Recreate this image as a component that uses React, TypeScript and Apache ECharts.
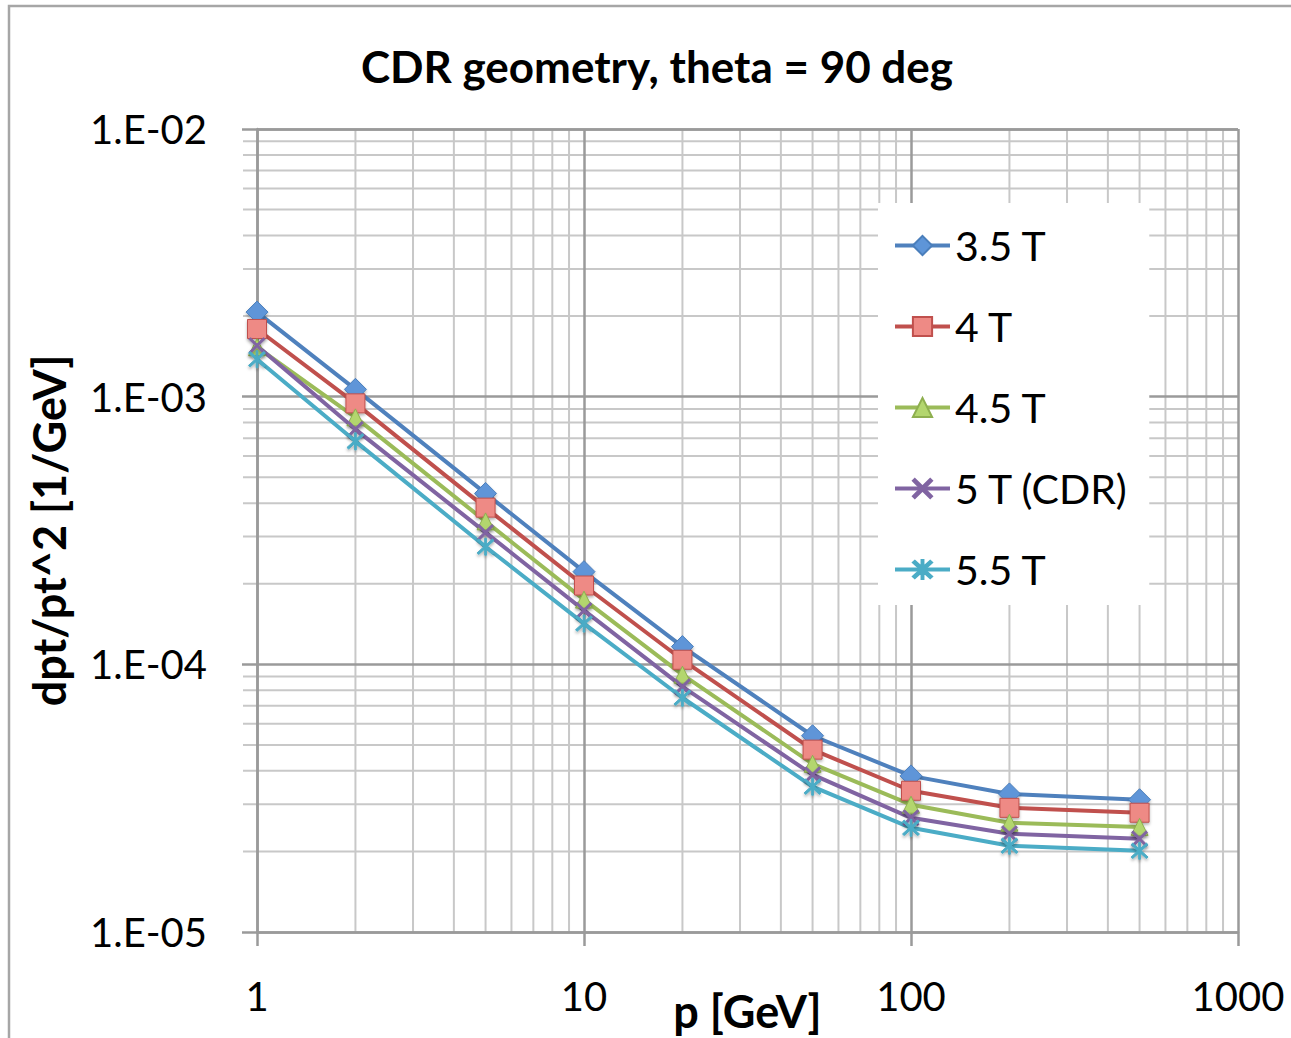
import React, { useEffect, useRef } from "react";
import * as echarts from "echarts";

const momenta = [1, 2, 5, 10, 20, 50, 100, 200, 500];
const seriesNames = ["3.5 T", "4 T", "4.5 T", "5 T (CDR)", "5.5 T"];
const b35 = [2.07e-3, 1.065e-3, 4.35e-4, 2.22e-4, 1.165e-4, 5.41e-5, 3.83e-5, 3.28e-5, 3.12e-5];
const b40 = [1.79e-3, 9.44e-4, 3.85e-4, 1.97e-4, 1.04e-4, 4.8e-5, 3.37e-5, 2.91e-5, 2.79e-5];
const b45 = [1.53e-3, 8.37e-4, 3.42e-4, 1.745e-4, 9.15e-5, 4.25e-5, 2.99e-5, 2.56e-5, 2.47e-5];
const b50 = [1.55e-3, 7.55e-4, 3.11e-4, 1.59e-4, 8.25e-5, 3.87e-5, 2.67e-5, 2.33e-5, 2.23e-5];
const b55 = [1.38e-3, 6.81e-4, 2.75e-4, 1.42e-4, 7.5e-5, 3.49e-5, 2.45e-5, 2.1e-5, 2.01e-5];
const xMinorTicks = [2, 3, 4, 5, 6, 7, 8, 9, 20, 30, 40, 50, 60, 70, 80, 90, 200, 300, 400, 500, 600, 700, 800, 900];
const yMinorTicks = [
  2e-5, 3e-5, 4e-5, 5e-5, 6e-5, 7e-5, 8e-5, 9e-5,
  2e-4, 3e-4, 4e-4, 5e-4, 6e-4, 7e-4, 8e-4, 9e-4,
  2e-3, 3e-3, 4e-3, 5e-3, 6e-3, 7e-3, 8e-3, 9e-3,
];

const FONT = "Lato, 'Open Sans', sans-serif";

const X_PATH = "path://M2,0 L10,8 L18,0 L20,2 L12,10 L20,18 L18,20 L10,12 L2,20 L0,18 L8,10 L0,2 Z";
const STAR_PATH =
  "path://M2,0 L10,8 L18,0 L20,2 L12,10 L20,18 L18,20 L10,12 L2,20 L0,18 L8,10 L0,2 Z M9,-1 L11,-1 L11,21 L9,21 Z";

const styles = [
  { line: "#4F81BD", fill: "#5E95D8", border: "#4A7EBB", symbol: "diamond", size: 22 },
  { line: "#C0504D", fill: "#EE8A85", border: "#C0504D", symbol: "rect", size: 19 },
  { line: "#9BBB59", fill: "#B3D66E", border: "#8EAF4F", symbol: "triangle", size: 17 },
  { line: "#8064A2", fill: "#8064A2", border: "#8064A2", symbol: X_PATH, size: 16 },
  { line: "#4BACC6", fill: "#4BACC6", border: "#4BACC6", symbol: STAR_PATH, size: 17 },
];

function expLabel(v: number): string {
  const e = Math.round(Math.log10(v));
  const a = Math.abs(e);
  return "1.E" + (e < 0 ? "-" : "+") + (a < 10 ? "0" + a : String(a));
}

export default function App() {
  const ref = useRef<HTMLDivElement>(null);
  useEffect(() => {
    if (!ref.current) return;
    const chart = echarts.init(ref.current, undefined, { renderer: "svg" });
    const allValues = [b35, b40, b45, b50, b55];
    const lineSeries = allValues.map((vals, i) => ({
      name: seriesNames[i],
      type: "line",
      z: 3,
      clip: false,
      data: momenta.map((m, j) => [m, vals[j]]),
      symbol: styles[i].symbol,
      symbolSize: styles[i].size,
      showAllSymbol: true,
      lineStyle: { color: styles[i].line, width: 4 },
      itemStyle: {
        color: styles[i].fill,
        borderColor: styles[i].border,
        borderWidth: 1,
        shadowBlur: 3,
        shadowOffsetY: 2,
        shadowColor: "rgba(0,0,0,0.3)",
      },
      emphasis: { disabled: true },
    }));

    const option: any = {
      animation: false,
      backgroundColor: "#ffffff",
      graphic: [
        {
          type: "rect",
          shape: { x: 9, y: 6, width: 1400, height: 1100 },
          style: { fill: "none", stroke: "#a6a6a6", lineWidth: 2.5 },
          silent: true,
        },
        {
          type: "text",
          x: 657,
          y: 66,
          style: {
            text: "CDR geometry, theta = 90 deg",
            font: `bold 44px ${FONT}`,
            fill: "#000",
            textAlign: "center",
            textVerticalAlign: "middle",
          },
        },
      ],
      grid: {
        left: 257,
        right: 53,
        top: 129,
        bottom: 106,
        containLabel: false,
        outerBoundsMode: "none",
      },
      legend: {
        data: seriesNames,
        orient: "vertical",
        left: 878,
        top: 203,
        padding: [22, 20, 15, 15],
        itemGap: 40,
        itemWidth: 55,
        itemHeight: 24,
        backgroundColor: "#ffffff",
        lineStyle: { width: 4 },
        textStyle: { fontFamily: FONT, fontSize: 41, color: "#000", lineHeight: 40 },
        selectedMode: false,
      },
      xAxis: {
        type: "log",
        logBase: 10,
        min: 1,
        max: 1000,
        z: 1,
        name: "p [GeV]",
        nameLocation: "middle",
        nameGap: 56,
        nameMoveOverlap: false,
        nameTextStyle: { fontFamily: FONT, fontSize: 45, fontWeight: "bold", color: "#000" },
        axisLine: { show: true, lineStyle: { color: "#9a9a9a", width: 2.5 } },
        axisTick: { show: true, inside: false, length: 14, lineStyle: { color: "#9a9a9a", width: 2.5 } },
        axisLabel: {
          fontFamily: FONT,
          fontSize: 40,
          color: "#000",
          margin: 44,
          formatter: (v: number) => String(Math.round(v)),
        },
        splitLine: { show: true, lineStyle: { color: "#9a9a9a", width: 2.5 } },
        minorTick: { show: false },
        minorSplitLine: { show: false },
      },
      yAxis: {
        type: "log",
        logBase: 10,
        min: 1e-5,
        max: 1e-2,
        z: 1,
        name: "dpt/pt^2 [1/GeV]",
        nameLocation: "middle",
        nameGap: 186,
        nameMoveOverlap: false,
        nameRotate: 90,
        nameTextStyle: { fontFamily: FONT, fontSize: 45, fontWeight: "bold", color: "#000" },
        axisLine: { show: true, lineStyle: { color: "#9a9a9a", width: 2.5 } },
        axisTick: { show: true, inside: false, length: 15, lineStyle: { color: "#9a9a9a", width: 2.5 } },
        axisLabel: {
          fontFamily: FONT,
          fontSize: 40,
          color: "#000",
          margin: 50,
          formatter: (v: number) => expLabel(v),
        },
        splitLine: { show: true, lineStyle: { color: "#9a9a9a", width: 2.5 } },
        minorTick: { show: false },
        minorSplitLine: { show: false },
      },
      series: [
        {
          type: "custom",
          name: "xminor",
          z: 0,
          silent: true,
          clip: false,
          data: xMinorTicks.map((v) => [v, 1e-5]),
          renderItem: (params: any, api: any) => {
            const cs = params.coordSys;
            const p = api.coord([api.value(0), api.value(1)]);
            return {
              type: "line",
              shape: { x1: p[0], y1: cs.y, x2: p[0], y2: cs.y + cs.height },
              style: { stroke: "#c8c8c8", lineWidth: 2 },
            };
          },
        },
        {
          type: "custom",
          name: "yminor",
          z: 0,
          silent: true,
          clip: false,
          data: yMinorTicks.map((v) => [1, v]),
          renderItem: (params: any, api: any) => {
            const cs = params.coordSys;
            const p = api.coord([api.value(0), api.value(1)]);
            return {
              type: "line",
              shape: { x1: cs.x - 14, y1: p[1], x2: cs.x + cs.width, y2: p[1] },
              style: { stroke: "#c8c8c8", lineWidth: 2 },
            };
          },
        },
        ...lineSeries,
      ],
    };
    chart.setOption(option);
    return () => chart.dispose();
  }, []);
  return (
    <div
      ref={ref}
      style={{ position: "absolute", left: 0, top: 0, width: 1291, height: 1038 }}
    />
  );
}
